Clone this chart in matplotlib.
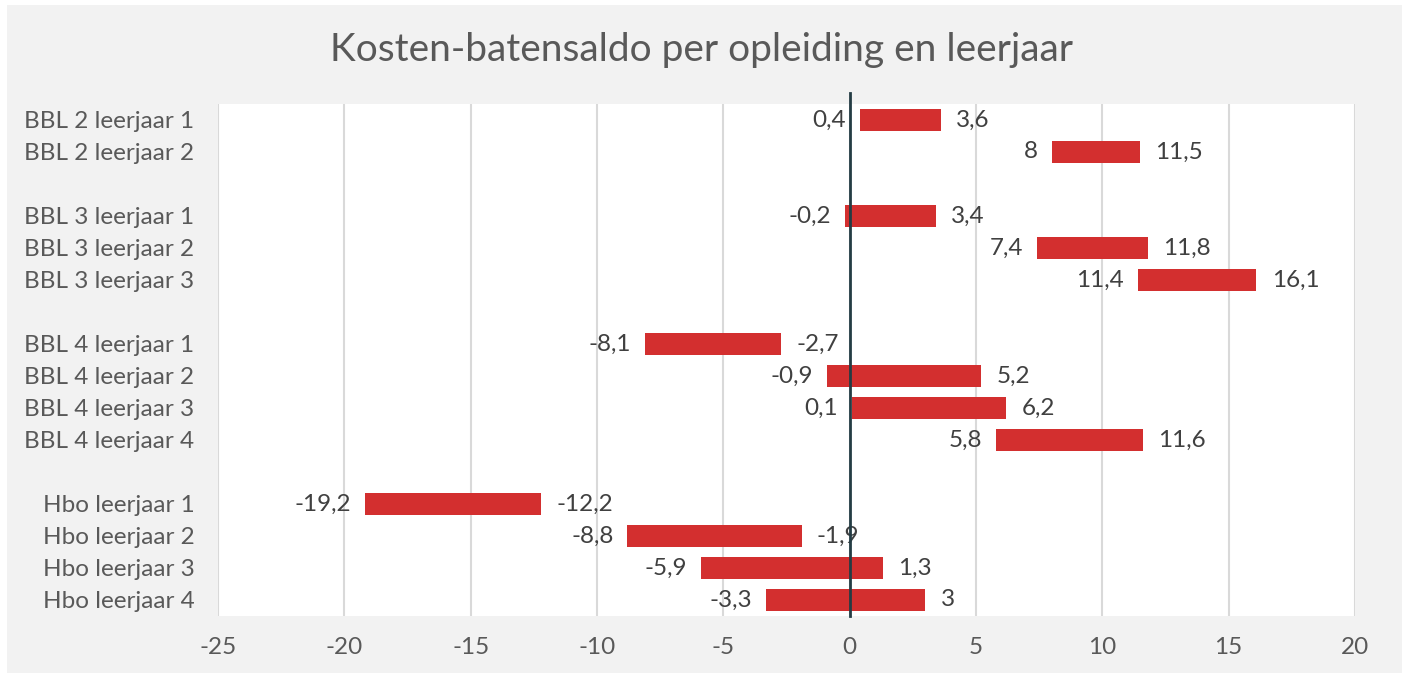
import matplotlib.pyplot as plt
from matplotlib.patches import Rectangle

plt.rcParams['font.family'] = ['Lato', 'DejaVu Sans']

# categories, None = empty spacer row
labels = ['BBL 2 leerjaar 1', 'BBL 2 leerjaar 2', None,
          'BBL 3 leerjaar 1', 'BBL 3 leerjaar 2', 'BBL 3 leerjaar 3', None,
          'BBL 4 leerjaar 1', 'BBL 4 leerjaar 2', 'BBL 4 leerjaar 3', 'BBL 4 leerjaar 4', None,
          'Hbo leerjaar 1', 'Hbo leerjaar 2', 'Hbo leerjaar 3', 'Hbo leerjaar 4']
low = [0.4, 8.0, None, -0.2, 7.4, 11.4, None, -8.1, -0.9, 0.1, 5.8, None, -19.2, -8.8, -5.9, -3.3]
high = [3.6, 11.5, None, 3.4, 11.8, 16.1, None, -2.7, 5.2, 6.2, 11.6, None, -12.2, -1.9, 1.3, 3.0]

def fmt(v):
    s = ('%.1f' % v).rstrip('0').rstrip('.')
    return s.replace('.', ',')

fig = plt.figure(figsize=(14.02, 6.73), dpi=100, facecolor='white')
bg = Rectangle((7 / 1402, 0), 1, 1 - 5 / 673, transform=fig.transFigure,
               facecolor='#f2f2f2', edgecolor='none', zorder=-10)
fig.patches.append(bg)
ax = fig.add_axes([218 / 1402, 1 - 616 / 673, (1355 - 218) / 1402, (616 - 104) / 673])
ax.set_facecolor('white')

n = len(labels)
ypos = list(range(n))
for i in ypos:
    if labels[i] is None:
        continue
    ax.barh(i, high[i] - low[i], left=low[i], height=0.68, color='#d32f2f', zorder=3)
    ax.annotate(fmt(low[i]), (low[i], i), xytext=(-10, 0), textcoords='offset points',
                ha='right', va='center', fontsize=17.5, color='#404040')
    ax.annotate(fmt(high[i]), (high[i], i), xytext=(11, 0), textcoords='offset points',
                ha='left', va='center', fontsize=17.5, color='#404040')

ax.set_xlim(-25, 20)
ax.set_ylim(n - 0.5, -0.5)
ax.set_xticks(range(-25, 21, 5))
ax.set_xticklabels([str(t) for t in range(-25, 21, 5)])
ax.set_yticks([i for i in ypos if labels[i] is not None])
ax.set_yticklabels([l for l in labels if l is not None])
ax.tick_params(axis='both', length=0, labelsize=17.5, labelcolor='#595959')
ax.tick_params(axis='x', pad=15)
ax.tick_params(axis='y', pad=17)
ax.grid(axis='x', color='#d9d9d9', linewidth=1.5, zorder=0)
for s in ax.spines.values():
    s.set_visible(False)

# zero line, reaching slightly above the plot area
ax.plot([0, 0], [n - 0.5, -0.85], color='#243c44', linewidth=2, zorder=4, clip_on=False)

fig.text(0.5, 1 - 50 / 673, 'Kosten-batensaldo per opleiding en leerjaar', ha='center', va='center',
         fontsize=28, color='#595959')

fig.savefig('out.png', dpi=100, facecolor=fig.get_facecolor())
